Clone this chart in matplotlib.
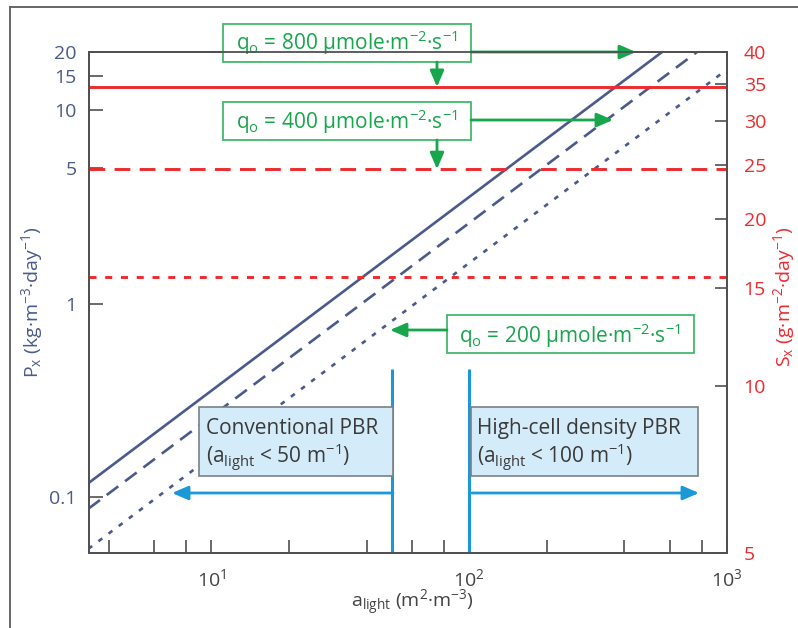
import numpy as np
import matplotlib
matplotlib.use("Agg")
import matplotlib.pyplot as plt
from matplotlib.patches import Rectangle
from matplotlib.ticker import LogLocator, NullFormatter, NullLocator, FixedLocator, FixedFormatter

plt.rcParams['font.family'] = ['Open Sans', 'DejaVu Sans']
plt.rcParams['mathtext.fontset'] = 'custom'
plt.rcParams['mathtext.rm'] = 'Open Sans'
plt.rcParams['mathtext.it'] = 'Open Sans:italic'
plt.rcParams['mathtext.bf'] = 'Open Sans:bold'

# data
a_800 = [3.33, 560]
px_800 = [0.118, 20]
a_400 = [3.33, 765]
px_400 = [0.087, 20]
a_200 = [3.33, 960]
px_200 = [0.054, 15.6]
sx_levels = [34.6, 24.6, 15.7]     # 800, 400, 200 umole
a_limits = [50, 100]               # conventional / high-cell density PBR
q_labels = ["800", "400", "200"]

left_ticks = [0.1, 1, 5, 10, 15, 20]
left_labels = ["0.1", "1", "5", "10", "15", "20"]
right_ticks = [5, 10, 15, 20, 25, 30, 35, 40]

navy = "#4a5a8a"
red = "#ee2a2e"
green = "#17a64b"
green_edge = "#43b86a"
blue = "#1a98d8"
dark = "#505050"

fig = plt.figure(figsize=(7.98, 6.28), dpi=100)
L, R, B, T = 89, 727, 553, 52
ax = fig.add_axes([L / 798, 1 - B / 628, (R - L) / 798, (B - T) / 628])


def pa(px, py):
    # pixel position -> axes fraction
    return ((px - L) / (R - L), (B - py) / (B - T))


ax.set_xscale("log")
ax.set_yscale("log")
ax.set_xlim(3.35, 1000)
ax.set_ylim(0.0514, 20)

ax.plot(a_800, px_800, color=navy, lw=1.9, solid_capstyle="butt")
ax.plot(a_400, px_400, color=navy, lw=1.9, dashes=(5.5, 3.2))
ax.plot(a_200, px_200, color=navy, lw=1.9, dashes=(1.8, 3.0))

# PBR limits
ax.vlines(a_limits, 0.04, 0.46, color=blue, lw=2.2)

ax2 = ax.twinx()
ax2.set_yscale("log")
ax2.set_ylim(5, 40)
styles = [dict(), dict(dashes=(5.4, 3.2)), dict(dashes=(2.4, 3.0))]
for s, st in zip(sx_levels, styles):
    ax2.axhline(s, color=red, lw=2.1, **st)

# axes styling
for a in (ax, ax2):
    for sp in a.spines.values():
        sp.set_color(dark)
        sp.set_linewidth(1.3)
ax.yaxis.set_major_locator(FixedLocator(left_ticks))
ax.yaxis.set_major_formatter(FixedFormatter(left_labels))
ax.yaxis.set_minor_locator(NullLocator())
ax.tick_params(axis="y", direction="in", length=10, width=1.2, color=dark,
               labelcolor=navy, labelsize=14, pad=9)
ax.xaxis.set_major_locator(FixedLocator([10, 100, 1000]))
ax.set_xticklabels([r"10$^{1}$", r"10$^{2}$", r"10$^{3}$"])
ax.xaxis.set_minor_locator(LogLocator(base=10, subs=(2, 4, 6, 8), numticks=20))
ax.xaxis.set_minor_formatter(NullFormatter())
ax.tick_params(axis="x", which="both", direction="in", length=9.5, width=1.2,
               color=dark, labelcolor="#444444", labelsize=14, pad=11)

ax2.yaxis.set_major_locator(FixedLocator(right_ticks))
ax2.yaxis.set_major_formatter(FixedFormatter([str(t) for t in right_ticks]))
ax2.yaxis.set_minor_locator(NullLocator())
ax2.tick_params(axis="y", direction="in", length=9, width=1.2, color=dark,
                labelcolor=red, labelsize=14, pad=12)

fig.text(32 / 798, 1 - 302 / 628, r"P$_\mathrm{x}$ (kg·m$^{-3}$·day$^{-1}$)",
         rotation=90, ha="center", va="center", color=navy, fontsize=14)
fig.text(784 / 798, 1 - 297 / 628, r"S$_\mathrm{x}$ (g·m$^{-2}$·day$^{-1}$)",
         rotation=90, ha="center", va="center", color=red, fontsize=14)
fig.text(412 / 798, 1 - 603 / 628, r"a$_\mathrm{light}$ (m$^{2}$·m$^{-3}$)",
         ha="center", va="center", color="#444444", fontsize=14)


def box(x0, y0, x1, y1, fc, ec, lw):
    (ax0, ay1) = pa(x0, y1)
    (ax1, ay0) = pa(x1, y0)
    ax.add_patch(Rectangle((ax0, ay1), ax1 - ax0, ay0 - ay1, transform=ax.transAxes,
                           facecolor=fc, edgecolor=ec, lw=lw, clip_on=False, zorder=5))


def arrow(target_ax, xy, start, color, coords="axes fraction"):
    target_ax.annotate("", xy=xy, xycoords=coords, xytext=start, textcoords="axes fraction",
                       arrowprops=dict(arrowstyle="-|>,head_length=0.65,head_width=0.28",
                                       color=color, lw=2, shrinkA=0, shrinkB=0,
                                       mutation_scale=15),
                       annotation_clip=False, zorder=6)


qtext = r"q$_\mathrm{o}$ = %s µmole·m$^{-2}$·s$^{-1}$"

# 800
box(223, 24, 471, 62, "white", green_edge, 1.3)
ax.text(*pa(347, 50), qtext % q_labels[0], transform=ax.transAxes, ha="center",
        va="baseline", color=green, fontsize=15, zorder=7)
arrow(ax, pa(636, 52), pa(471, 52), green)
arrow(ax2, (75, sx_levels[0]), pa(437, 62), green, coords="data")

# 400
box(223, 102, 471, 140, "white", green_edge, 1.3)
ax.text(*pa(347, 129), qtext % q_labels[1], transform=ax.transAxes, ha="center",
        va="baseline", color=green, fontsize=15, zorder=7)
arrow(ax, pa(613, 120), pa(471, 120), green)
arrow(ax2, (75, sx_levels[1]), pa(437, 140), green, coords="data")

# 200
box(447, 315, 694, 353, "white", green_edge, 1.3)
ax.text(*pa(570, 343), qtext % q_labels[2], transform=ax.transAxes, ha="center",
        va="baseline", color=green, fontsize=15, zorder=7)
arrow(ax, pa(390, 330), pa(447, 330), green)

# PBR boxes
box(199, 407, 393, 476, "#d4ecf9", "#7a8088", 1.2)
ax.text(*pa(206, 434), "Conventional PBR", transform=ax.transAxes, ha="left",
        va="baseline", color="#3a3a3a", fontsize=15, zorder=7)
ax.text(*pa(206, 463), r"(a$_\mathrm{light}$ < 50 m$^{-1}$)", transform=ax.transAxes,
        ha="left", va="baseline", color="#3a3a3a", fontsize=15, zorder=7)
box(471, 407, 698, 476, "#d4ecf9", "#7a8088", 1.2)
ax.text(*pa(477, 434), "High-cell density PBR", transform=ax.transAxes, ha="left",
        va="baseline", color="#3a3a3a", fontsize=15, zorder=7)
ax.text(*pa(477, 463), r"(a$_\mathrm{light}$ < 100 m$^{-1}$)", transform=ax.transAxes,
        ha="left", va="baseline", color="#3a3a3a", fontsize=15, zorder=7)

arrow(ax, pa(172, 493), pa(393, 493), blue)
arrow(ax, pa(699, 493), pa(472, 493), blue)

# outer frame (top and left edges visible)
fig.add_artist(plt.Line2D([10 / 798, 1], [1 - 7 / 628, 1 - 7 / 628], color="#666666", lw=1.4))
fig.add_artist(plt.Line2D([10 / 798, 10 / 798], [0, 1 - 7 / 628], color="#666666", lw=1.4))

fig.savefig("out.png", dpi=100)
